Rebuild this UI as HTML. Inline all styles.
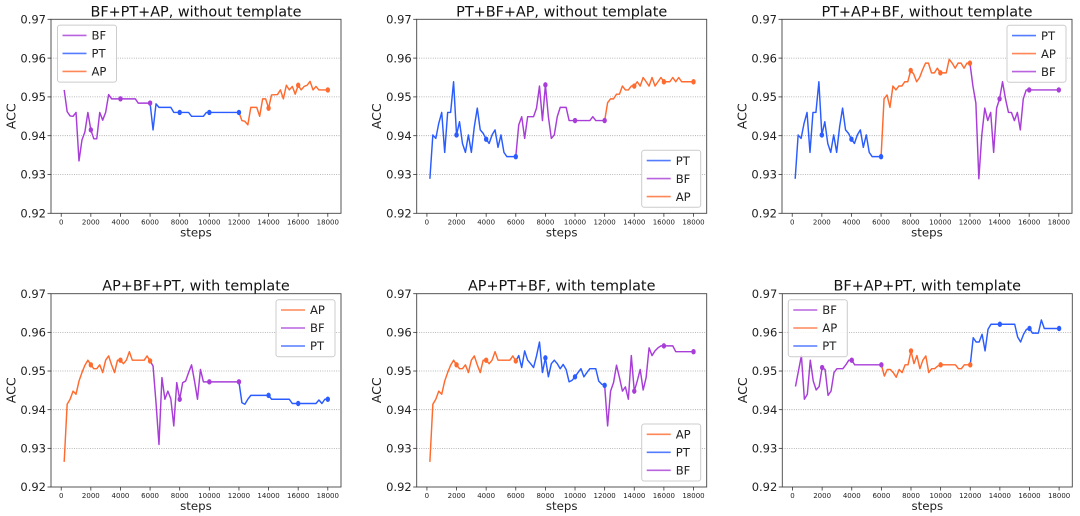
<!DOCTYPE html>
<html><head><meta charset="utf-8">
<style>
html,body{margin:0;padding:0;background:#fff;}
svg{display:block;font-family:"DejaVu Sans","Liberation Sans",sans-serif;}
.yt{font-size:11.5px;text-anchor:end;fill:#222;}
.xt{font-size:7px;text-anchor:middle;fill:#222;}
.ttl{font-size:14.4px;text-anchor:middle;fill:#111;}
.lab{font-size:11.8px;text-anchor:middle;fill:#222;}
.acc{font-size:12.6px;text-anchor:middle;fill:#222;}
.lg{font-size:11.6px;fill:#222;}
.grid{stroke:#999;stroke-width:0.8;stroke-dasharray:0.9,1.4;}
.sp{fill:none;stroke:#444;stroke-width:0.9;}
.tk{stroke:#333;stroke-width:0.8;}
.ln{fill:none;stroke-width:1.45;stroke-linejoin:round;vector-effect:non-scaling-stroke;}
.bf{stroke:#a83dd8;} .pt{stroke:#2a5cff;} .ap{stroke:#ff6a2e;}
.mbf{fill:#a83dd8;} .mpt{fill:#2a5cff;} .map{fill:#ff6a2e;}
.lgl{stroke-width:1.6;opacity:0.8;}
</style></head>
<body>
<svg width="1080" height="516" viewBox="0 0 1080 516" xmlns="http://www.w3.org/2000/svg">

<!-- ============ PLOT 1 ============ -->
<g transform="translate(51,19.3)">
  <line class="grid" x1="0" x2="290" y1="38.8" y2="38.8"/>
  <line class="grid" x1="0" x2="290" y1="77.6" y2="77.6"/>
  <line class="grid" x1="0" x2="290" y1="116.4" y2="116.4"/>
  <line class="grid" x1="0" x2="290" y1="155.2" y2="155.2"/>
  <g transform="translate(10.22,0) scale(0.014811,0.388)">
    <polyline class="ln bf" points="200,182 400,238 600,249 800,250 1000,240 1200,365 1400,311 1600,290 1800,240 2000,285 2200,308 2400,308 2600,240 2800,260 3000,240 3200,194 3400,205 5000,205 5200,216 6000,216"/>
    <polyline class="ln pt" points="6000,216 6200,285 6400,218 6600,227 7400,227 7600,240 8600,240 8800,250 9600,250 9800,240 12000,240"/>
    <polyline class="ln ap" points="12000,240 12200,261 12400,263 12600,272 12800,227 13200,227 13400,250 13600,205 13800,205 14000,229 14200,195 14600,194 14800,182 15000,205 15200,170 15400,182 15600,173 15800,193 16000,170 16200,182 16400,173 16600,170 16800,160 17000,182 17200,173 17400,182 18000,182"/>
    <ellipse class="mbf" cx="2000" cy="285" rx="148" ry="7"/><ellipse class="mbf" cx="4000" cy="205" rx="148" ry="7"/><ellipse class="mbf" cx="6000" cy="216" rx="148" ry="7"/>
    <ellipse class="mpt" cx="8000" cy="240" rx="148" ry="7"/><ellipse class="mpt" cx="10000" cy="240" rx="148" ry="7"/><ellipse class="mpt" cx="12000" cy="240" rx="148" ry="7"/>
    <ellipse class="map" cx="14000" cy="229" rx="148" ry="7"/><ellipse class="map" cx="16000" cy="170" rx="148" ry="7"/><ellipse class="map" cx="18000" cy="182" rx="148" ry="7"/>
  </g>
  <rect class="sp" x="0" y="0" width="290" height="194"/>
  <g class="tk">
    <line x1="-3.5" x2="0" y1="0" y2="0"/><line x1="-3.5" x2="0" y1="38.8" y2="38.8"/><line x1="-3.5" x2="0" y1="77.6" y2="77.6"/><line x1="-3.5" x2="0" y1="116.4" y2="116.4"/><line x1="-3.5" x2="0" y1="155.2" y2="155.2"/><line x1="-3.5" x2="0" y1="194" y2="194"/>
    <line x1="10.22" x2="10.22" y1="194" y2="197.5"/><line x1="39.84" x2="39.84" y1="194" y2="197.5"/><line x1="69.46" x2="69.46" y1="194" y2="197.5"/><line x1="99.08" x2="99.08" y1="194" y2="197.5"/><line x1="128.7" x2="128.7" y1="194" y2="197.5"/><line x1="158.32" x2="158.32" y1="194" y2="197.5"/><line x1="187.94" x2="187.94" y1="194" y2="197.5"/><line x1="217.56" x2="217.56" y1="194" y2="197.5"/><line x1="247.18" x2="247.18" y1="194" y2="197.5"/><line x1="276.8" x2="276.8" y1="194" y2="197.5"/>
  </g>
  <text class="yt" x="-5" y="4.2">0.97</text><text class="yt" x="-5" y="43">0.96</text><text class="yt" x="-5" y="81.8">0.95</text><text class="yt" x="-5" y="120.6">0.94</text><text class="yt" x="-5" y="159.4">0.93</text><text class="yt" x="-5" y="198.2">0.92</text>
  <text class="xt" x="10.22" y="205">0</text><text class="xt" x="39.84" y="205">2000</text><text class="xt" x="69.46" y="205">4000</text><text class="xt" x="99.08" y="205">6000</text><text class="xt" x="128.7" y="205">8000</text><text class="xt" x="158.32" y="205">10000</text><text class="xt" x="187.94" y="205">12000</text><text class="xt" x="217.56" y="205">14000</text><text class="xt" x="247.18" y="205">16000</text><text class="xt" x="276.8" y="205">18000</text>
  <text class="lab" x="145" y="217">steps</text>
  <text class="acc" transform="translate(-35.5,97) rotate(-90)" x="0" y="0">ACC</text>
  <text class="ttl" x="145" y="-2.8">BF+PT+AP, without template</text>
  <g transform="translate(6.5,5.8)">
    <rect width="59" height="57" rx="2.5" fill="#fff" fill-opacity="0.85" stroke="#ccc" stroke-width="1"/>
    <line class="bf lgl" x1="5" x2="29" y1="10.3" y2="10.3"/><text class="lg" x="34" y="14.5">BF</text>
    <line class="pt lgl" x1="5" x2="29" y1="28.3" y2="28.3"/><text class="lg" x="34" y="32.5">PT</text>
    <line class="ap lgl" x1="5" x2="29" y1="46.3" y2="46.3"/><text class="lg" x="34" y="50.5">AP</text>
  </g>
</g>

<!-- ============ PLOT 2 ============ -->
<g transform="translate(416.7,19.3)">
  <line class="grid" x1="0" x2="290" y1="38.8" y2="38.8"/>
  <line class="grid" x1="0" x2="290" y1="77.6" y2="77.6"/>
  <line class="grid" x1="0" x2="290" y1="116.4" y2="116.4"/>
  <line class="grid" x1="0" x2="290" y1="155.2" y2="155.2"/>
  <g transform="translate(10.22,0) scale(0.014811,0.388)">
    <polyline class="ln pt" points="200,411 400,298 600,307 800,268 1000,240 1200,343 1400,240 1600,240 1800,161 2000,298 2200,264 2400,320 2600,343 2800,298 3000,343 3200,277 3400,229 3600,285 3800,294 4000,309 4200,320 4400,298 4600,285 4800,330 5000,298 5200,343 5400,354 6000,354"/>
    <polyline class="ln bf" points="6000,354 6200,272 6400,251 6600,307 6800,251 7200,251 7400,229 7600,172 7800,261 8000,169 8200,251 8400,307 8600,298 8800,251 9000,227 9400,227 9600,261 11000,261 11200,251 11400,261 12000,261"/>
    <polyline class="ln ap" points="12000,261 12200,215 12400,205 12600,205 12800,193 13000,193 13200,172 13400,182 13600,182 13800,172 14000,172 14200,161 14400,172 14600,150 14800,161 15000,172 15200,150 15400,172 15600,161 15800,150 16000,161 16400,161 16600,150 16800,161 17000,150 17200,161 18000,161"/>
    <ellipse class="mpt" cx="2000" cy="298" rx="148" ry="7"/><ellipse class="mpt" cx="4000" cy="309" rx="148" ry="7"/><ellipse class="mpt" cx="6000" cy="354" rx="148" ry="7"/>
    <ellipse class="mbf" cx="8000" cy="169" rx="148" ry="7"/><ellipse class="mbf" cx="10000" cy="261" rx="148" ry="7"/><ellipse class="mbf" cx="12000" cy="261" rx="148" ry="7"/>
    <ellipse class="map" cx="14000" cy="172" rx="148" ry="7"/><ellipse class="map" cx="16000" cy="161" rx="148" ry="7"/><ellipse class="map" cx="18000" cy="161" rx="148" ry="7"/>
  </g>
  <rect class="sp" x="0" y="0" width="290" height="194"/>
  <g class="tk">
    <line x1="-3.5" x2="0" y1="0" y2="0"/><line x1="-3.5" x2="0" y1="38.8" y2="38.8"/><line x1="-3.5" x2="0" y1="77.6" y2="77.6"/><line x1="-3.5" x2="0" y1="116.4" y2="116.4"/><line x1="-3.5" x2="0" y1="155.2" y2="155.2"/><line x1="-3.5" x2="0" y1="194" y2="194"/>
    <line x1="10.22" x2="10.22" y1="194" y2="197.5"/><line x1="39.84" x2="39.84" y1="194" y2="197.5"/><line x1="69.46" x2="69.46" y1="194" y2="197.5"/><line x1="99.08" x2="99.08" y1="194" y2="197.5"/><line x1="128.7" x2="128.7" y1="194" y2="197.5"/><line x1="158.32" x2="158.32" y1="194" y2="197.5"/><line x1="187.94" x2="187.94" y1="194" y2="197.5"/><line x1="217.56" x2="217.56" y1="194" y2="197.5"/><line x1="247.18" x2="247.18" y1="194" y2="197.5"/><line x1="276.8" x2="276.8" y1="194" y2="197.5"/>
  </g>
  <text class="yt" x="-5" y="4.2">0.97</text><text class="yt" x="-5" y="43">0.96</text><text class="yt" x="-5" y="81.8">0.95</text><text class="yt" x="-5" y="120.6">0.94</text><text class="yt" x="-5" y="159.4">0.93</text><text class="yt" x="-5" y="198.2">0.92</text>
  <text class="xt" x="10.22" y="205">0</text><text class="xt" x="39.84" y="205">2000</text><text class="xt" x="69.46" y="205">4000</text><text class="xt" x="99.08" y="205">6000</text><text class="xt" x="128.7" y="205">8000</text><text class="xt" x="158.32" y="205">10000</text><text class="xt" x="187.94" y="205">12000</text><text class="xt" x="217.56" y="205">14000</text><text class="xt" x="247.18" y="205">16000</text><text class="xt" x="276.8" y="205">18000</text>
  <text class="lab" x="145" y="217">steps</text>
  <text class="acc" transform="translate(-35.5,97) rotate(-90)" x="0" y="0">ACC</text>
  <text class="ttl" x="145" y="-2.8">PT+BF+AP, without template</text>
  <g transform="translate(225,131)">
    <rect width="59" height="57" rx="2.5" fill="#fff" fill-opacity="0.85" stroke="#ccc" stroke-width="1"/>
    <line class="pt lgl" x1="5" x2="29" y1="10.3" y2="10.3"/><text class="lg" x="34" y="14.5">PT</text>
    <line class="bf lgl" x1="5" x2="29" y1="28.3" y2="28.3"/><text class="lg" x="34" y="32.5">BF</text>
    <line class="ap lgl" x1="5" x2="29" y1="46.3" y2="46.3"/><text class="lg" x="34" y="50.5">AP</text>
  </g>
</g>

<!-- ============ PLOT 3 ============ -->
<g transform="translate(782,19.3)">
  <line class="grid" x1="0" x2="290" y1="38.8" y2="38.8"/>
  <line class="grid" x1="0" x2="290" y1="77.6" y2="77.6"/>
  <line class="grid" x1="0" x2="290" y1="116.4" y2="116.4"/>
  <line class="grid" x1="0" x2="290" y1="155.2" y2="155.2"/>
  <g transform="translate(10.22,0) scale(0.014811,0.388)">
    <polyline class="ln pt" points="200,411 400,298 600,307 800,268 1000,240 1200,343 1400,240 1600,240 1800,161 2000,298 2200,264 2400,320 2600,343 2800,298 3000,343 3200,277 3400,229 3600,285 3800,294 4000,309 4200,320 4400,298 4600,285 4800,330 5000,298 5200,343 5400,354 6000,354"/>
    <polyline class="ln ap" points="6000,354 6200,205 6400,195 6600,227 6800,172 7000,182 7200,172 7400,172 7600,161 7800,161 8000,132 8200,141 8400,161 8600,150 8800,130 9000,113 9200,113 9400,138 9600,138 9800,126 10000,138 10400,138 10600,103 10800,113 11000,126 11200,113 11400,113 11600,126 11800,113 12000,113"/>
    <polyline class="ln bf" points="12000,113 12200,172 12400,216 12600,411 12800,298 13000,229 13200,261 13400,240 13600,343 13800,229 14000,205 14200,161 14400,205 14600,240 14800,240 15000,261 15200,240 15400,285 15600,205 15800,182 16000,182 18000,182"/>
    <ellipse class="mpt" cx="2000" cy="298" rx="148" ry="7"/><ellipse class="mpt" cx="4000" cy="309" rx="148" ry="7"/><ellipse class="mpt" cx="6000" cy="354" rx="148" ry="7"/>
    <ellipse class="map" cx="8000" cy="132" rx="148" ry="7"/><ellipse class="map" cx="10000" cy="138" rx="148" ry="7"/><ellipse class="map" cx="12000" cy="113" rx="148" ry="7"/>
    <ellipse class="mbf" cx="14000" cy="205" rx="148" ry="7"/><ellipse class="mbf" cx="16000" cy="182" rx="148" ry="7"/><ellipse class="mbf" cx="18000" cy="182" rx="148" ry="7"/>
  </g>
  <rect class="sp" x="0" y="0" width="290" height="194"/>
  <g class="tk">
    <line x1="-3.5" x2="0" y1="0" y2="0"/><line x1="-3.5" x2="0" y1="38.8" y2="38.8"/><line x1="-3.5" x2="0" y1="77.6" y2="77.6"/><line x1="-3.5" x2="0" y1="116.4" y2="116.4"/><line x1="-3.5" x2="0" y1="155.2" y2="155.2"/><line x1="-3.5" x2="0" y1="194" y2="194"/>
    <line x1="10.22" x2="10.22" y1="194" y2="197.5"/><line x1="39.84" x2="39.84" y1="194" y2="197.5"/><line x1="69.46" x2="69.46" y1="194" y2="197.5"/><line x1="99.08" x2="99.08" y1="194" y2="197.5"/><line x1="128.7" x2="128.7" y1="194" y2="197.5"/><line x1="158.32" x2="158.32" y1="194" y2="197.5"/><line x1="187.94" x2="187.94" y1="194" y2="197.5"/><line x1="217.56" x2="217.56" y1="194" y2="197.5"/><line x1="247.18" x2="247.18" y1="194" y2="197.5"/><line x1="276.8" x2="276.8" y1="194" y2="197.5"/>
  </g>
  <text class="yt" x="-5" y="4.2">0.97</text><text class="yt" x="-5" y="43">0.96</text><text class="yt" x="-5" y="81.8">0.95</text><text class="yt" x="-5" y="120.6">0.94</text><text class="yt" x="-5" y="159.4">0.93</text><text class="yt" x="-5" y="198.2">0.92</text>
  <text class="xt" x="10.22" y="205">0</text><text class="xt" x="39.84" y="205">2000</text><text class="xt" x="69.46" y="205">4000</text><text class="xt" x="99.08" y="205">6000</text><text class="xt" x="128.7" y="205">8000</text><text class="xt" x="158.32" y="205">10000</text><text class="xt" x="187.94" y="205">12000</text><text class="xt" x="217.56" y="205">14000</text><text class="xt" x="247.18" y="205">16000</text><text class="xt" x="276.8" y="205">18000</text>
  <text class="lab" x="145" y="217">steps</text>
  <text class="acc" transform="translate(-35.5,97) rotate(-90)" x="0" y="0">ACC</text>
  <text class="ttl" x="145" y="-2.8">PT+AP+BF, without template</text>
  <g transform="translate(225,6)">
    <rect width="59" height="57" rx="2.5" fill="#fff" fill-opacity="0.85" stroke="#ccc" stroke-width="1"/>
    <line class="pt lgl" x1="5" x2="29" y1="10.3" y2="10.3"/><text class="lg" x="34" y="14.5">PT</text>
    <line class="ap lgl" x1="5" x2="29" y1="28.3" y2="28.3"/><text class="lg" x="34" y="32.5">AP</text>
    <line class="bf lgl" x1="5" x2="29" y1="46.3" y2="46.3"/><text class="lg" x="34" y="50.5">BF</text>
  </g>
</g>

<!-- ============ PLOT 4 ============ -->
<g transform="translate(51,293.7)">
  <line class="grid" x1="0" x2="290" y1="38.66" y2="38.66"/>
  <line class="grid" x1="0" x2="290" y1="77.32" y2="77.32"/>
  <line class="grid" x1="0" x2="290" y1="115.98" y2="115.98"/>
  <line class="grid" x1="0" x2="290" y1="154.64" y2="154.64"/>
  <g transform="translate(10.22,0) scale(0.014811,0.3866)">
    <polyline class="ln ap" points="200,435 400,286 600,273 800,252 1000,260 1200,226 1400,204 1600,185 1800,172 2000,184 2200,194 2400,194 2600,184 2800,204 3000,172 3200,161 3400,184 3600,204 3800,172 4000,172 4200,181 4400,172 4600,150 4800,172 5600,172 5800,161 6000,174"/>
    <polyline class="ln bf" points="6000,174 6200,187 6400,282 6600,390 6800,217 7000,273 7200,252 7400,272 7600,342 7800,230 8000,273 8200,230 8400,226 8600,204 8800,184 9000,226 9200,273 9400,196 9600,228 12000,228"/>
    <polyline class="ln pt" points="12000,228 12200,282 12400,286 12600,273 12800,263 14000,263 14200,273 15400,273 15600,284 17200,284 17400,275 17600,284 17800,273 18000,273"/>
    <ellipse class="map" cx="2000" cy="184" rx="148" ry="7"/><ellipse class="map" cx="4000" cy="172" rx="148" ry="7"/><ellipse class="map" cx="6000" cy="174" rx="148" ry="7"/>
    <ellipse class="mbf" cx="8000" cy="273" rx="148" ry="7"/><ellipse class="mbf" cx="10000" cy="228" rx="148" ry="7"/><ellipse class="mbf" cx="12000" cy="228" rx="148" ry="7"/>
    <ellipse class="mpt" cx="14000" cy="263" rx="148" ry="7"/><ellipse class="mpt" cx="16000" cy="284" rx="148" ry="7"/><ellipse class="mpt" cx="18000" cy="273" rx="148" ry="7"/>
  </g>
  <rect class="sp" x="0" y="0" width="290" height="193.3"/>
  <g class="tk">
    <line x1="-3.5" x2="0" y1="0" y2="0"/><line x1="-3.5" x2="0" y1="38.66" y2="38.66"/><line x1="-3.5" x2="0" y1="77.32" y2="77.32"/><line x1="-3.5" x2="0" y1="115.98" y2="115.98"/><line x1="-3.5" x2="0" y1="154.64" y2="154.64"/><line x1="-3.5" x2="0" y1="193.3" y2="193.3"/>
    <line x1="10.22" x2="10.22" y1="193.3" y2="196.8"/><line x1="39.84" x2="39.84" y1="193.3" y2="196.8"/><line x1="69.46" x2="69.46" y1="193.3" y2="196.8"/><line x1="99.08" x2="99.08" y1="193.3" y2="196.8"/><line x1="128.7" x2="128.7" y1="193.3" y2="196.8"/><line x1="158.32" x2="158.32" y1="193.3" y2="196.8"/><line x1="187.94" x2="187.94" y1="193.3" y2="196.8"/><line x1="217.56" x2="217.56" y1="193.3" y2="196.8"/><line x1="247.18" x2="247.18" y1="193.3" y2="196.8"/><line x1="276.8" x2="276.8" y1="193.3" y2="196.8"/>
  </g>
  <text class="yt" x="-5" y="4.2">0.97</text><text class="yt" x="-5" y="42.9">0.96</text><text class="yt" x="-5" y="81.5">0.95</text><text class="yt" x="-5" y="120.2">0.94</text><text class="yt" x="-5" y="158.8">0.93</text><text class="yt" x="-5" y="197.5">0.92</text>
  <text class="xt" x="10.22" y="204.3">0</text><text class="xt" x="39.84" y="204.3">2000</text><text class="xt" x="69.46" y="204.3">4000</text><text class="xt" x="99.08" y="204.3">6000</text><text class="xt" x="128.7" y="204.3">8000</text><text class="xt" x="158.32" y="204.3">10000</text><text class="xt" x="187.94" y="204.3">12000</text><text class="xt" x="217.56" y="204.3">14000</text><text class="xt" x="247.18" y="204.3">16000</text><text class="xt" x="276.8" y="204.3">18000</text>
  <text class="lab" x="145" y="216.5">steps</text>
  <text class="acc" transform="translate(-35.5,96.6) rotate(-90)" x="0" y="0">ACC</text>
  <text class="ttl" x="145" y="-3">AP+BF+PT, with template</text>
  <g transform="translate(225,6)">
    <rect width="59" height="57" rx="2.5" fill="#fff" fill-opacity="0.85" stroke="#ccc" stroke-width="1"/>
    <line class="ap lgl" x1="5" x2="29" y1="10.3" y2="10.3"/><text class="lg" x="34" y="14.5">AP</text>
    <line class="bf lgl" x1="5" x2="29" y1="28.3" y2="28.3"/><text class="lg" x="34" y="32.5">BF</text>
    <line class="pt lgl" x1="5" x2="29" y1="46.3" y2="46.3"/><text class="lg" x="34" y="50.5">PT</text>
  </g>
</g>

<!-- ============ PLOT 5 ============ -->
<g transform="translate(416.7,293.7)">
  <line class="grid" x1="0" x2="290" y1="38.66" y2="38.66"/>
  <line class="grid" x1="0" x2="290" y1="77.32" y2="77.32"/>
  <line class="grid" x1="0" x2="290" y1="115.98" y2="115.98"/>
  <line class="grid" x1="0" x2="290" y1="154.64" y2="154.64"/>
  <g transform="translate(10.22,0) scale(0.014811,0.3866)">
    <polyline class="ln ap" points="200,435 400,286 600,273 800,252 1000,260 1200,226 1400,204 1600,185 1800,172 2000,184 2200,194 2400,194 2600,184 2800,204 3000,172 3200,161 3400,184 3600,204 3800,172 4000,172 4200,181 4400,172 4600,150 4800,172 5600,172 5800,161 6000,174"/>
    <polyline class="ln pt" points="6000,174 6200,160 6400,191 6600,148 6800,172 7000,181 7200,191 7400,161 7600,125 7800,204 8000,166 8200,215 8400,181 8600,172 8800,181 9000,194 9200,183 9400,196 9600,228 9800,224 10000,215 10200,204 10400,194 10600,215 10800,204 11000,194 11400,194 11600,226 11800,234 12000,237"/>
    <polyline class="ln bf" points="12000,237 12200,342 12400,252 12600,230 12800,185 13000,217 13200,252 13400,241 13600,273 13800,160 14000,252 14200,226 14400,196 14600,249 14800,217 15000,140 15200,160 15400,148 15600,140 15800,135 16600,135 16800,150 18000,150"/>
    <ellipse class="map" cx="2000" cy="184" rx="148" ry="7"/><ellipse class="map" cx="4000" cy="172" rx="148" ry="7"/><ellipse class="map" cx="6000" cy="174" rx="148" ry="7"/>
    <ellipse class="mpt" cx="8000" cy="166" rx="148" ry="7"/><ellipse class="mpt" cx="10000" cy="215" rx="148" ry="7"/><ellipse class="mpt" cx="12000" cy="237" rx="148" ry="7"/>
    <ellipse class="mbf" cx="14000" cy="252" rx="148" ry="7"/><ellipse class="mbf" cx="16000" cy="135" rx="148" ry="7"/><ellipse class="mbf" cx="18000" cy="150" rx="148" ry="7"/>
  </g>
  <rect class="sp" x="0" y="0" width="290" height="193.3"/>
  <g class="tk">
    <line x1="-3.5" x2="0" y1="0" y2="0"/><line x1="-3.5" x2="0" y1="38.66" y2="38.66"/><line x1="-3.5" x2="0" y1="77.32" y2="77.32"/><line x1="-3.5" x2="0" y1="115.98" y2="115.98"/><line x1="-3.5" x2="0" y1="154.64" y2="154.64"/><line x1="-3.5" x2="0" y1="193.3" y2="193.3"/>
    <line x1="10.22" x2="10.22" y1="193.3" y2="196.8"/><line x1="39.84" x2="39.84" y1="193.3" y2="196.8"/><line x1="69.46" x2="69.46" y1="193.3" y2="196.8"/><line x1="99.08" x2="99.08" y1="193.3" y2="196.8"/><line x1="128.7" x2="128.7" y1="193.3" y2="196.8"/><line x1="158.32" x2="158.32" y1="193.3" y2="196.8"/><line x1="187.94" x2="187.94" y1="193.3" y2="196.8"/><line x1="217.56" x2="217.56" y1="193.3" y2="196.8"/><line x1="247.18" x2="247.18" y1="193.3" y2="196.8"/><line x1="276.8" x2="276.8" y1="193.3" y2="196.8"/>
  </g>
  <text class="yt" x="-5" y="4.2">0.97</text><text class="yt" x="-5" y="42.9">0.96</text><text class="yt" x="-5" y="81.5">0.95</text><text class="yt" x="-5" y="120.2">0.94</text><text class="yt" x="-5" y="158.8">0.93</text><text class="yt" x="-5" y="197.5">0.92</text>
  <text class="xt" x="10.22" y="204.3">0</text><text class="xt" x="39.84" y="204.3">2000</text><text class="xt" x="69.46" y="204.3">4000</text><text class="xt" x="99.08" y="204.3">6000</text><text class="xt" x="128.7" y="204.3">8000</text><text class="xt" x="158.32" y="204.3">10000</text><text class="xt" x="187.94" y="204.3">12000</text><text class="xt" x="217.56" y="204.3">14000</text><text class="xt" x="247.18" y="204.3">16000</text><text class="xt" x="276.8" y="204.3">18000</text>
  <text class="lab" x="145" y="216.5">steps</text>
  <text class="acc" transform="translate(-35.5,96.6) rotate(-90)" x="0" y="0">ACC</text>
  <text class="ttl" x="145" y="-3">AP+PT+BF, with template</text>
  <g transform="translate(225,130.3)">
    <rect width="59" height="57" rx="2.5" fill="#fff" fill-opacity="0.85" stroke="#ccc" stroke-width="1"/>
    <line class="ap lgl" x1="5" x2="29" y1="10.3" y2="10.3"/><text class="lg" x="34" y="14.5">AP</text>
    <line class="pt lgl" x1="5" x2="29" y1="28.3" y2="28.3"/><text class="lg" x="34" y="32.5">PT</text>
    <line class="bf lgl" x1="5" x2="29" y1="46.3" y2="46.3"/><text class="lg" x="34" y="50.5">BF</text>
  </g>
</g>

<!-- ============ PLOT 6 ============ -->
<g transform="translate(782.3,293.7)">
  <line class="grid" x1="0" x2="290" y1="38.66" y2="38.66"/>
  <line class="grid" x1="0" x2="290" y1="77.32" y2="77.32"/>
  <line class="grid" x1="0" x2="290" y1="115.98" y2="115.98"/>
  <line class="grid" x1="0" x2="290" y1="154.64" y2="154.64"/>
  <g transform="translate(10.22,0) scale(0.014811,0.3866)">
    <polyline class="ln bf" points="200,240 400,200 600,160 800,273 1000,260 1200,172 1400,226 1600,249 1800,240 2000,191 2200,196 2400,263 2600,252 2800,204 3000,194 3400,194 3600,184 3800,172 4000,172 4200,184 6000,184"/>
    <polyline class="ln ap" points="6000,184 6200,213 6400,196 6600,196 6800,204 7000,216 7200,196 7400,204 7600,184 7800,184 8000,148 8200,181 8400,160 8600,194 8800,172 9000,161 9200,204 9400,194 9600,194 9800,187 10000,184 11000,184 11200,194 11400,194 11600,184 12000,184"/>
    <polyline class="ln pt" points="12000,184 12200,114 12400,125 12600,125 12800,105 13000,148 13200,92 13400,79 15000,79 15200,112 15400,125 15600,105 15800,92 16000,90 16200,102 16600,102 16800,68 17000,90 18000,90"/>
    <ellipse class="mbf" cx="2000" cy="191" rx="148" ry="7"/><ellipse class="mbf" cx="4000" cy="172" rx="148" ry="7"/><ellipse class="mbf" cx="6000" cy="184" rx="148" ry="7"/>
    <ellipse class="map" cx="8000" cy="148" rx="148" ry="7"/><ellipse class="map" cx="10000" cy="184" rx="148" ry="7"/><ellipse class="map" cx="12000" cy="184" rx="148" ry="7"/>
    <ellipse class="mpt" cx="14000" cy="79" rx="148" ry="7"/><ellipse class="mpt" cx="16000" cy="90" rx="148" ry="7"/><ellipse class="mpt" cx="18000" cy="90" rx="148" ry="7"/>
  </g>
  <rect class="sp" x="0" y="0" width="290" height="193.3"/>
  <g class="tk">
    <line x1="-3.5" x2="0" y1="0" y2="0"/><line x1="-3.5" x2="0" y1="38.66" y2="38.66"/><line x1="-3.5" x2="0" y1="77.32" y2="77.32"/><line x1="-3.5" x2="0" y1="115.98" y2="115.98"/><line x1="-3.5" x2="0" y1="154.64" y2="154.64"/><line x1="-3.5" x2="0" y1="193.3" y2="193.3"/>
    <line x1="10.22" x2="10.22" y1="193.3" y2="196.8"/><line x1="39.84" x2="39.84" y1="193.3" y2="196.8"/><line x1="69.46" x2="69.46" y1="193.3" y2="196.8"/><line x1="99.08" x2="99.08" y1="193.3" y2="196.8"/><line x1="128.7" x2="128.7" y1="193.3" y2="196.8"/><line x1="158.32" x2="158.32" y1="193.3" y2="196.8"/><line x1="187.94" x2="187.94" y1="193.3" y2="196.8"/><line x1="217.56" x2="217.56" y1="193.3" y2="196.8"/><line x1="247.18" x2="247.18" y1="193.3" y2="196.8"/><line x1="276.8" x2="276.8" y1="193.3" y2="196.8"/>
  </g>
  <text class="yt" x="-5" y="4.2">0.97</text><text class="yt" x="-5" y="42.9">0.96</text><text class="yt" x="-5" y="81.5">0.95</text><text class="yt" x="-5" y="120.2">0.94</text><text class="yt" x="-5" y="158.8">0.93</text><text class="yt" x="-5" y="197.5">0.92</text>
  <text class="xt" x="10.22" y="204.3">0</text><text class="xt" x="39.84" y="204.3">2000</text><text class="xt" x="69.46" y="204.3">4000</text><text class="xt" x="99.08" y="204.3">6000</text><text class="xt" x="128.7" y="204.3">8000</text><text class="xt" x="158.32" y="204.3">10000</text><text class="xt" x="187.94" y="204.3">12000</text><text class="xt" x="217.56" y="204.3">14000</text><text class="xt" x="247.18" y="204.3">16000</text><text class="xt" x="276.8" y="204.3">18000</text>
  <text class="lab" x="145" y="216.5">steps</text>
  <text class="acc" transform="translate(-35.5,96.6) rotate(-90)" x="0" y="0">ACC</text>
  <text class="ttl" x="145" y="-3">BF+AP+PT, with template</text>
  <g transform="translate(6,6)">
    <rect width="59" height="57" rx="2.5" fill="#fff" fill-opacity="0.85" stroke="#ccc" stroke-width="1"/>
    <line class="bf lgl" x1="5" x2="29" y1="10.3" y2="10.3"/><text class="lg" x="34" y="14.5">BF</text>
    <line class="ap lgl" x1="5" x2="29" y1="28.3" y2="28.3"/><text class="lg" x="34" y="32.5">AP</text>
    <line class="pt lgl" x1="5" x2="29" y1="46.3" y2="46.3"/><text class="lg" x="34" y="50.5">PT</text>
  </g>
</g>

</svg>
</body></html>
